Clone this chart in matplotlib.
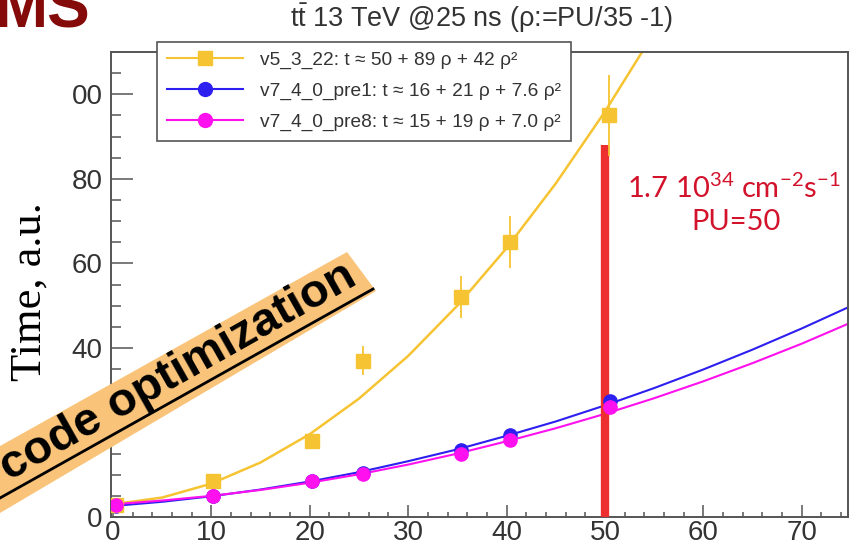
import matplotlib
matplotlib.use("Agg")
import matplotlib.pyplot as plt
from matplotlib.lines import Line2D
from matplotlib.patches import Polygon

plt.rcParams['font.family'] = ['Liberation Sans', 'DejaVu Sans']
plt.rcParams['mathtext.fontset'] = 'custom'
plt.rcParams['mathtext.rm'] = 'Liberation Sans'

# measured points (PU, time)
pu_old = [0.3, 10.2, 20.2, 25.4, 35.4, 40.4, 50.4]
t_old = [2.9, 8.4, 18.0, 37.0, 52.0, 65.0, 95.0]
err_old = [0.4, 0.8, 1.5, 3.5, 5.0, 6.2, 9.5]

pu_new = [0.3, 10.2, 20.2, 25.4, 35.4, 40.4, 50.5]
t_pre1 = [2.7, 5.0, 8.5, 10.4, 15.8, 19.5, 27.4]
t_pre8 = [2.9, 4.9, 8.4, 10.2, 14.8, 18.2, 26.1]

# fitted curves
fit_x_old = [0, 5, 10, 15, 20, 25, 30, 35, 40, 45, 50, 55]
fit_old = [3.0, 4.6, 7.9, 12.9, 19.6, 28.0, 38.1, 50.0, 63.6, 78.9, 95.9, 114.6]
fit_x = [0, 5, 10, 15, 20, 25, 30, 35, 40, 45, 50, 55, 60, 65, 70, 75]
fit_pre1 = [2.6, 3.6, 4.9, 6.5, 8.4, 10.6, 13.2, 16.0, 19.2, 22.6, 26.4, 30.5,
            34.9, 39.6, 44.6, 49.9]
fit_pre8 = [3.0, 3.9, 5.0, 6.4, 8.1, 10.1, 12.4, 15.0, 17.9, 21.0, 24.4, 28.1,
            32.1, 36.4, 41.0, 46.0]

labels = ['v5_3_22: t \u2248 50 + 89 \u03c1 + 42 \u03c1\u00b2',
          'v7_4_0_pre1: t \u2248 16 + 21 \u03c1 + 7.6 \u03c1\u00b2',
          'v7_4_0_pre8: t \u2248 15 + 19 \u03c1 + 7.0 \u03c1\u00b2']
yticks = [0, 20, 40, 60, 80, 100]
ytick_labels = ['0', '20', '40', '60', '80', '00']
xticks = [0, 10, 20, 30, 40, 50, 60, 70]

c_old, c_pre1, c_pre8 = '#f6c432', '#2d1ff0', '#ff10ee'
grey = '#555555'
W, H = 853, 550

fig = plt.figure(figsize=(8.53, 5.5), dpi=100)
ax = fig.add_axes([111 / W, 33 / H, 737 / W, 465 / H])

ax.plot(fit_x_old, fit_old, color=c_old, lw=1.8, zorder=2)
ax.plot(fit_x, fit_pre1, color=c_pre1, lw=1.5, zorder=2)
ax.plot(fit_x, fit_pre8, color=c_pre8, lw=1.5, zorder=2)

ax.vlines(50, 0, 88, color='#ee2f2f', lw=6, zorder=3)

ax.errorbar(pu_old, t_old, yerr=err_old, fmt='s', color=c_old, ms=10,
            elinewidth=1.3, capsize=0, zorder=4)
ax.plot(pu_new, t_pre1, 'o', color=c_pre1, ms=9.5, zorder=4)
ax.plot(pu_new, t_pre8, 'o', color=c_pre8, ms=9.5, zorder=5)

ax.set_xlim(-0.2, 74.7)
ax.set_ylim(0, 110)
ax.set_xticks(xticks)
ax.set_xticks(range(0, 75, 2), minor=True)
ax.set_yticks(yticks)
ax.set_yticklabels(ytick_labels)
ax.set_yticks(range(0, 111, 5), minor=True)
ax.tick_params(which='both', direction='in', color=grey, width=1.1,
               labelsize=20, labelcolor='#333333')
ax.tick_params(axis='y', which='major', length=16, pad=6)
ax.tick_params(axis='y', which='minor', length=7)
ax.tick_params(axis='x', which='major', length=8.5, pad=2)
ax.tick_params(axis='x', which='minor', length=3.6)
for s in ax.spines.values():
    s.set_color(grey)
    s.set_linewidth(1.4)

handles = [Line2D([], [], color=c_old, lw=1.5, marker='s', ms=10),
           Line2D([], [], color=c_pre1, lw=1.5, marker='o', ms=10),
           Line2D([], [], color=c_pre8, lw=1.5, marker='o', ms=10)]
leg = ax.legend(handles, labels, loc='upper left',
                bbox_to_anchor=(157 / W, 1 - 42 / H), bbox_transform=fig.transFigure,
                borderaxespad=0, fontsize=13.8, handlelength=4.0, handletextpad=0.9,
                labelspacing=0.7, fancybox=False, framealpha=1, edgecolor=grey,
                borderpad=0.5)
leg.get_frame().set_linewidth(1.2)
for t in leg.get_texts():
    t.set_color('#333333')

fig.text(482 / W, 1 - 18 / H,
         r'$\mathregular{t\bar{t}}$ 13 TeV @25 ns (ρ:=PU/35 -1)',
         ha='center', va='center', fontsize=19.5, color='#333333')

fig.text(91 / W, 1 - 27 / H, 'MS', ha='right', va='baseline', fontsize=46,
         fontweight='bold', color='#850a0a')

fig.text(30 / W, 1 - 292 / H, 'Time, a.u.', rotation=90, ha='center', va='center',
         fontsize=32, family='Liberation Serif', color='black')

red = '#d3122c'
fig.text(734 / W, 1 - 188 / H,
         r'1.7 10$^{\mathregular{34}}$ cm$^{\mathregular{-2}}$s$^{\mathregular{-1}}$',
         ha='center', va='center', fontsize=21, family='Lato', color=red)
fig.text(736 / W, 1 - 222 / H, 'PU=50', ha='center', va='center', fontsize=21,
         family='Lato', color=red)

# orange banner
band = [(347, 252), (376, 291), (0, 513), (0, 446)]
fig.patches.append(Polygon([(x / W, 1 - y / H) for x, y in band], closed=True,
                           transform=fig.transFigure, facecolor='#f9c47a',
                           edgecolor='none', zorder=10))
fig.lines.append(Line2D([0, 373 / W], [1 - 498 / H, 1 - 289 / H],
                        transform=fig.transFigure, color='black', lw=2, zorder=11))
fig.text(178 / W, 1 - 372 / H, 'code optimization', rotation=29.5,
         rotation_mode='anchor', ha='center', va='center', fontsize=34,
         fontweight='bold', color='black', zorder=12)

fig.savefig('out.png', dpi=100)
